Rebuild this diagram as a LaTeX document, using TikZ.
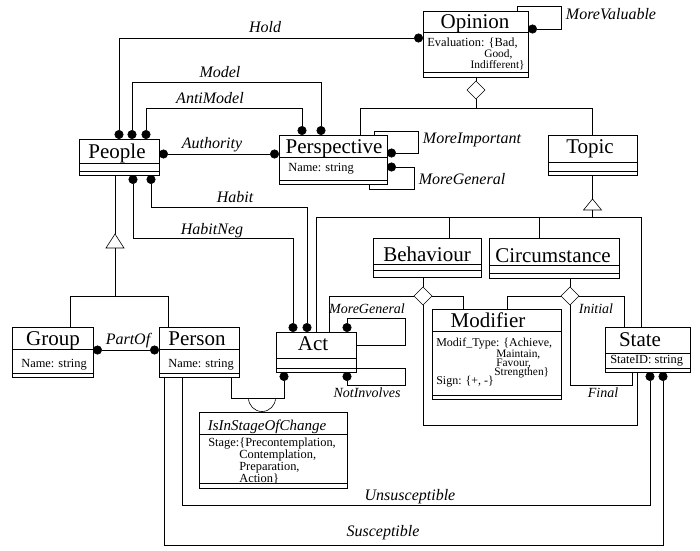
\documentclass[tikz,border=0pt]{standalone}
\usepackage{fontspec}
\setmainfont{Liberation Serif}
\usetikzlibrary{arrows.meta,fit,shapes.geometric}

\newcommand{\umlclass}[7]{%
\node[cls, fit={(#2,#3) (#4,#5)}] (#1) {};
\draw (#1.west |- 0,#6) -- (#1.east |- 0,#6);
\draw (#1.west |- 0,#7) -- (#1.east |- 0,#7);}

\begin{document}
\begin{tikzpicture}[x=1pt,y=-1pt,line width=0.6pt,
  >={Circle[length=9pt]},
  cls/.style={draw,rectangle,inner sep=0,outer sep=0},
  agg/.style={draw,diamond,fill=white,inner sep=0,outer sep=0,minimum width=18pt,minimum height=18pt},
  ttl/.style={inner sep=0,anchor=base,font=\fontsize{21}{21}\selectfont},
  attr/.style={inner sep=0,anchor=base west,font=\fontsize{12.4}{12}\selectfont},
  sattr/.style={attr,font=\fontsize{11.4}{11}\selectfont},
  lbl/.style={inner sep=0,anchor=base,font=\fontsize{16}{16}\selectfont\itshape},
  slbl/.style={inner sep=0,anchor=base,font=\fontsize{14}{14}\selectfont\itshape}]
\useasboundingbox (0,0) rectangle (700,550);

\umlclass{opinion}{423}{11}{528}{77}{32}{72}
\umlclass{people}{79}{139}{159}{175}{163}{171}
\umlclass{perspective}{279}{135}{387}{184}{157}{180}
\umlclass{topic}{548}{135}{637}{175}{162}{171}
\umlclass{behaviour}{373}{238}{481}{277}{264}{270}
\umlclass{circumstance}{489}{238}{619}{278}{265}{273}
\umlclass{group}{12}{327}{93}{377}{349}{373}
\umlclass{person}{159}{327}{239}{377}{349}{373}
\umlclass{act}{276}{332}{356}{372}{358}{368}
\umlclass{modifier}{432}{309}{561}{399}{331}{395}
\umlclass{state}{605}{327}{690}{372}{353}{368}
\umlclass{stage}{199}{412}{347}{488}{434}{483}

\node[ttl] (opinion-t) at (475,28) {Opinion};
\node[ttl] (people-t) at (117,158) {People};
\node[ttl] (perspective-t) at (334,153) {Perspective};
\node[ttl] (topic-t) at (590,153) {Topic};
\node[ttl] (behaviour-t) at (427,261) {Behaviour};
\node[ttl] (circumstance-t) at (553,262) {Circumstance};
\node[ttl] (group-t) at (53,345) {Group};
\node[ttl] (person-t) at (197,345) {Person};
\node[ttl] (act-t) at (313,350) {Act};
\node[ttl] (modifier-t) at (488,327) {Modifier};
\node[ttl] (state-t) at (640,346) {State};
\node[ttl,font=\fontsize{15}{15}\selectfont\itshape] (stage-t) at (267,430) {IsInStageOfChange};

\node[attr] (opinion-a1) at (427,46) {Evaluation: \{Bad,};
\node[sattr] (opinion-a2) at (484,57.5) {Good,};
\node[sattr,anchor=base east] (opinion-a3) at (525,68) {Indifferent\}};
\node[attr] (perspective-a) at (288,171) {Name: string};
\node[attr] (group-a) at (21,367) {Name: string};
\node[attr] (person-a) at (168,367) {Name: string};
\node[attr] (state-a) at (610,363) {StateID: string};
\node[attr,font=\fontsize{12}{12}\selectfont] (modifier-a1) at (436,346) {Modif\_Type: \{Achieve,};
\node[sattr] (modifier-a2) at (496,357) {Maintain,};
\node[sattr] (modifier-a3) at (496,366) {Favour,};
\node[sattr] (modifier-a4) at (494,375) {Strengthen\}};
\node[attr,font=\fontsize{12}{12}\selectfont] (modifier-a5) at (436,384) {Sign: \{+, -\}};
\node[attr] (stage-a1) at (208,446) {Stage:\{Precontemplation,};
\node[attr] (stage-a2) at (239,458) {Contemplation,};
\node[attr] (stage-a3) at (239,470) {Preparation,};
\node[attr] (stage-a4) at (239,482) {Action\}};

\node[lbl] (hold) at (265,32) {Hold};
\node[lbl] (model) at (220,77) {Model};
\node[lbl] (antimodel) at (210,103) {AntiModel};
\node[lbl] (authority) at (212,148) {Authority};
\node[lbl] (habit) at (235,202) {Habit};
\node[lbl] (habitneg) at (212,234) {HabitNeg};
\node[lbl] (partof) at (128,344) {PartOf};
\node[lbl] (morevaluable) at (611,19) {MoreValuable};
\node[lbl] (moreimportant) at (472,143) {MoreImportant};
\node[lbl] (moregeneral) at (462,184) {MoreGeneral};
\node[slbl] (actgeneral) at (367,313) {MoreGeneral};
\node[slbl] (notinvolves) at (367,397) {NotInvolves};
\node[slbl] (initial) at (596,313) {Initial};
\node[slbl] (final) at (603,397) {Final};
\node[lbl] (unsusceptible) at (410,500) {Unsusceptible};
\node[lbl] (susceptible) at (383,536) {Susceptible};

% associations
\draw[<->] (people.north -| 119,0) |- (opinion.west |- 0,38);
\draw[<->] (people.north -| 132,0) |- (321,82) -- (perspective.north -| 321,0);
\draw[<->] (people.north -| 146,0) |- (302,108) -- (perspective.north -| 302,0);
\draw[<->] (people.east |- 0,154) -- (perspective.west |- 0,154);
\draw[<->] (people.south -| 151,0) |- (307,207) -- (act.north -| 307,0);
\draw[<->] (people.south -| 133,0) |- (293,238) -- (act.north -| 293,0);
\draw[<->] (group.east |- 0,350) -- (person.west |- 0,350);
\draw[<-] (opinion.east |- 0,29) -| (561,6) -| (opinion.north -| 517,0);
\draw[<-] (perspective.east |- 0,153) -| (418,131) -| (perspective.north -| 374,0);
\draw[<-] (perspective.east |- 0,167) -| (414,189) -| (perspective.south -| 369,0);
\draw[<-] (act.north -| 347,0) |- (405,318) |- (act.east |- 0,345);
\draw[<-] (act.south -| 347,0) |- (405,385) |- (act.east |- 0,368);
\draw[<-] (state.south -| 650,0) |- (182,505) -- (person.south -| 182,0);
\draw[<-] (state.south -| 663,0) |- (164,545) -- (person.south -| 164,0);
\draw[->] (person.south -| 231,0) |- (284,398) -- (act.south -| 284,0);
\draw (248.5,398) arc[start angle=180,end angle=360,radius=13.5pt];

% aggregations
\node[agg] (opdiam) at (476,90) {};
\draw (opinion.south -| opdiam) -- (opdiam.north);
\draw (opdiam.south) -- (opdiam |- 0,108);
\draw (perspective.north -| 360,0) |- (topic.north |- 0,108) -- (topic.north);
\node[agg] (bdiam) at (423,296) {};
\draw (behaviour.south -| bdiam) -- (bdiam.north);
\draw (bdiam.west) -| (act.north -| 329,0);
\draw (bdiam.east) -| (modifier.north -| 463,0);
\draw (bdiam.south) |- (637,425) -- (state.south -| 637,0);
\node[agg] (cdiam) at (570,296) {};
\draw (circumstance.south -| cdiam) -- (cdiam.north);
\draw (cdiam.west) -| (modifier.north -| 507,0);
\draw (cdiam.east) -| (state.north -| 624,0);
\draw (cdiam.south) |- (632,385) -- (state.south -| 632,0);

% generalizations
\coordinate (pgen) at (115,234);
\draw (people.south -| pgen) -- (pgen);
\draw (pgen) -- ++(9,14) -- ++(-18,0) -- cycle;
\draw (pgen) ++(0,14) -- (115,296);
\draw (group.north -| 70,0) |- (168,296) -- (person.north -| 168,0);
\coordinate (tgen) at (592.5,199);
\draw (topic.south) -- (tgen);
\draw (tgen) -- ++(9,11) -- ++(-18,0) -- cycle;
\draw (tgen) ++(0,11) -- (592.5,217);
\draw (act.north -| 316,0) |- (641,217) -- (state.north -| 641,0);
\draw (behaviour.north -| 449,0) -- (449,217);
\draw (circumstance.north -| 539,0) -- (539,217);
\end{tikzpicture}
\end{document}
